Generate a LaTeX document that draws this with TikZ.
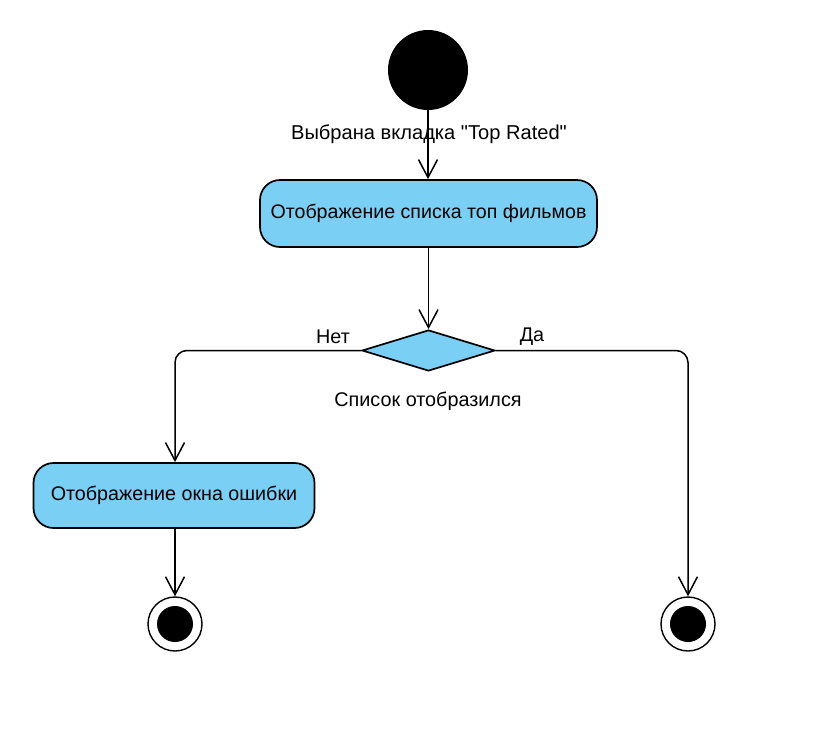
\documentclass[tikz,border=0pt]{standalone}
\usepackage{fontspec}
\setmainfont{Liberation Sans}
\usetikzlibrary{arrows.meta,shapes.geometric}
\definecolor{actblue}{RGB}{122,207,245}
\tikzset{
  actbox/.style={draw=black, line width=1.7pt, fill=actblue, rounded corners=20pt, inner sep=0pt},
  decision/.style={draw=black, line width=1.7pt, fill=actblue, diamond, aspect=3.2, inner sep=0pt, minimum width=133pt, minimum height=41pt},
  arr/.style={draw=black, line width=1.5pt, -{Straight Barb[length=18pt,width=19pt,line width=1.5pt]}},
  lbl/.style={font=\fontsize{19.8}{23}\selectfont, inner sep=0pt},
  startnode/.style={circle, fill=black, minimum size=80pt, inner sep=0pt},
  endouter/.style={circle, draw=black, line width=1.4pt, fill=white, minimum size=54pt, inner sep=0pt},
  endinner/.style={circle, fill=black, minimum size=36pt, inner sep=0pt}
}
\begin{document}
\begin{tikzpicture}[x=1pt,y=-1pt]
\useasboundingbox (0,0) rectangle (836,737);
\node[startnode] (start) at (428,70) {};
\node[actbox, minimum width=337pt, minimum height=67pt, font=\fontsize{19.6}{23}\selectfont] (box1) at (428.5,213.5) {Отображение списка топ фильмов};
\node[decision] (dec) at (428.5,350.5) {};
\node[actbox, minimum width=281pt, minimum height=65pt, font=\fontsize{19.7}{23}\selectfont] (box2) at (174,495.5) {Отображение окна ошибки};
\node[endouter] (end1) at (175,624) {};
\node[endinner] (end1i) at (175,624) {};
\node[endouter] (end2) at (688,624) {};
\node[endinner] (end2i) at (688,624) {};
\coordinate (c1) at (175,350.5);
\coordinate (c2) at (688,350.5);

\draw[arr] (start) -- (box1.north -| start);
\node[lbl, font=\fontsize{20.1}{23}\selectfont] (l1) at (429,134) {Выбрана вкладка \textquotedbl Top Rated\textquotedbl};
\draw[arr] (box1.south -| dec.north) -- (dec.north);
\draw[arr, rounded corners=12pt] (dec.west) -- (c1) -- (box2.north -| c1);
\draw[arr, rounded corners=12pt] (dec.east) -- (c2) -- (end2.north);
\draw[arr] (box2.south -| end1) -- (end1.north);
\node[lbl] (lno) at (333,337) {Нет};
\node[lbl] (lyes) at (532,337) {Да};
\node[lbl] (lcond) at (428,401) {Список отобразился};
\end{tikzpicture}
\end{document}
